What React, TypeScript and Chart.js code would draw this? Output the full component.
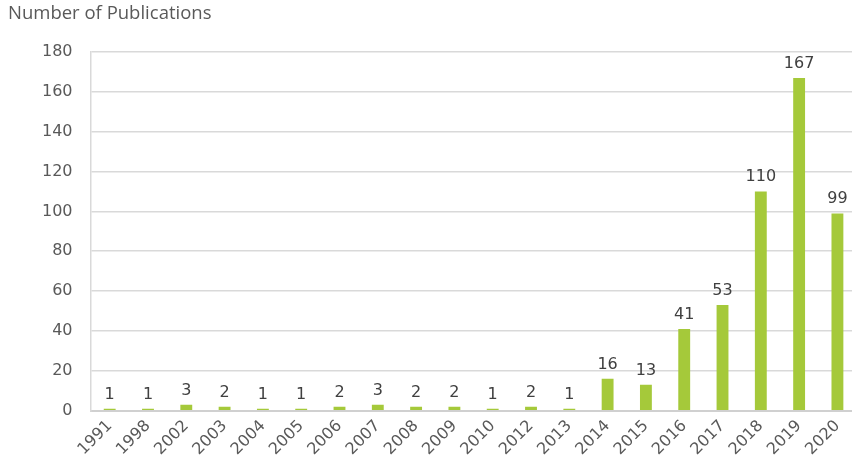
import React, { useEffect, useRef } from "react";
import { Chart, registerables } from "chart.js";

Chart.register(...registerables);

const years = ["1991","1998","2002","2003","2004","2005","2006","2007","2008","2009","2010","2012","2013","2014","2015","2016","2017","2018","2019","2020"];
const publications = [1,1,3,2,1,1,2,3,2,2,1,2,1,16,13,41,53,110,167,99];
const yTitle = "Number of Publications";

const valueLabels = {
  id: "valueLabels",
  afterDatasetsDraw(chart: any) {
    const { ctx } = chart;
    const meta = chart.getDatasetMeta(0);
    ctx.save();
    ctx.font = "16px 'DejaVu Sans'";
    ctx.fillStyle = "#404040";
    ctx.textAlign = "center";
    ctx.textBaseline = "alphabetic";
    meta.data.forEach((bar: any, i: number) => {
      ctx.fillText(String(publications[i]), bar.x, bar.y - 10);
    });
    ctx.restore();
  },
};

const titleTopLeft = {
  id: "titleTopLeft",
  afterDraw(chart: any) {
    const { ctx } = chart;
    ctx.save();
    ctx.font = "18.5px 'Open Sans'";
    ctx.fillStyle = "#595959";
    ctx.textAlign = "left";
    ctx.textBaseline = "middle";
    ctx.fillText(yTitle, 8, 14);
    ctx.restore();
  },
};

export default function App() {
  const ref = useRef<HTMLCanvasElement>(null);
  useEffect(() => {
    const chart = new Chart(ref.current!, {
      type: "bar",
      data: {
        labels: years,
        datasets: [
          {
            data: publications,
            backgroundColor: "#A5C93A",
            barPercentage: 0.31,
            categoryPercentage: 1,
          },
        ],
      },
      options: {
        animation: false,
        responsive: false,
        layout: { padding: { top: 52, left: 24, right: 0, bottom: 6 } },
        plugins: { legend: { display: false }, tooltip: { enabled: false } },
        scales: {
          x: {
            grid: { display: false, drawTicks: false },
            border: { color: "#d0d0d0", width: 2 },
            ticks: {
              minRotation: 45,
              maxRotation: 45,
              padding: 6,
              color: "#595959",
              font: { family: "DejaVu Sans", size: 16 },
            },
          },
          y: {
            min: 0,
            max: 180,
            ticks: {
              stepSize: 20,
              padding: 18,
              color: "#595959",
              font: { family: "DejaVu Sans", size: 16 },
            },
            grid: { color: "#d9d9d9", lineWidth: 1.5, drawTicks: false },
            border: { color: "#d9d9d9", width: 1.5 },
          },
        },
      },
      plugins: [valueLabels, titleTopLeft],
    });
    return () => chart.destroy();
  }, []);
  return (
    <div style={{ position: "fixed", left: 0, top: 0, width: 852, height: 471, overflow: "hidden", background: "#fff" }}>
      <canvas ref={ref} width={857} height={471} style={{ display: "block" }} />
    </div>
  );
}
